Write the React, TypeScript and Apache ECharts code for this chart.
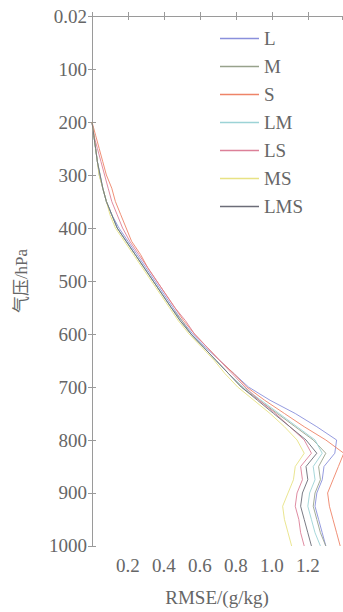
import React, { useEffect, useRef } from "react";
import * as echarts from "echarts";

// Pressure levels (hPa) at which RMSE is evaluated
const levels = [
  200, 225, 250, 275, 300, 325, 350, 375, 400, 425, 450, 475, 500, 525, 550,
  575, 600, 625, 650, 675, 700, 725, 750, 775, 800, 825, 850, 875, 900, 925,
  950, 975, 1000,
];

const seriesNames = ["L", "M", "S", "LM", "LS", "MS", "LMS"];
const seriesColors = ["#8a90dc", "#98a28c", "#ee8468", "#9cd3d6", "#dc8098", "#e8e284", "#6c6d78"];

// RMSE (g/kg) per level for each scheme
const rmseL = [
  0.0, 0.01, 0.02, 0.03, 0.045, 0.06, 0.08, 0.11, 0.15, 0.2, 0.25, 0.3, 0.35, 0.4, 0.45,
  0.5, 0.56, 0.63, 0.71, 0.79, 0.87, 0.99, 1.13, 1.25, 1.36, 1.35, 1.29, 1.28, 1.25, 1.24,
  1.26, 1.28, 1.3,
];
const rmseM = [
  0.0, 0.01, 0.02, 0.03, 0.04, 0.06, 0.08, 0.11, 0.14, 0.19, 0.24, 0.29, 0.34, 0.39, 0.44,
  0.5, 0.55, 0.62, 0.69, 0.76, 0.83, 0.93, 1.03, 1.13, 1.23, 1.3, 1.26, 1.27, 1.24, 1.23,
  1.25, 1.27, 1.3,
];
const rmseS = [
  0.0, 0.02, 0.04, 0.06, 0.08, 0.11, 0.13, 0.16, 0.19, 0.22, 0.27, 0.31, 0.36, 0.41, 0.46,
  0.51, 0.57, 0.64, 0.71, 0.79, 0.86, 0.96, 1.07, 1.18, 1.3, 1.4, 1.37, 1.34, 1.31, 1.32,
  1.34, 1.36, 1.38,
];
const rmseLM = [
  0.0, 0.01, 0.02, 0.03, 0.045, 0.06, 0.08, 0.11, 0.14, 0.19, 0.24, 0.29, 0.34, 0.39, 0.44,
  0.49, 0.55, 0.62, 0.69, 0.76, 0.84, 0.94, 1.04, 1.14, 1.24, 1.28, 1.23, 1.24, 1.21, 1.2,
  1.22, 1.24, 1.27,
];
const rmseLS = [
  0.0, 0.01, 0.03, 0.05, 0.07, 0.09, 0.11, 0.14, 0.17, 0.21, 0.26, 0.31, 0.36, 0.41, 0.46,
  0.52, 0.57, 0.64, 0.71, 0.78, 0.85, 0.93, 1.02, 1.1, 1.18, 1.22, 1.16, 1.17, 1.14, 1.13,
  1.15, 1.16, 1.18,
];
const rmseMS = [
  0.0, 0.01, 0.02, 0.03, 0.04, 0.06, 0.08, 0.1, 0.13, 0.18, 0.23, 0.28, 0.33, 0.38, 0.43,
  0.48, 0.54, 0.61, 0.68, 0.74, 0.81, 0.9, 0.99, 1.07, 1.14, 1.18, 1.13, 1.12, 1.09, 1.06,
  1.07, 1.09, 1.11,
];
const rmseLMS = [
  0.0, 0.01, 0.02, 0.03, 0.045, 0.06, 0.08, 0.11, 0.14, 0.19, 0.24, 0.29, 0.34, 0.39, 0.44,
  0.49, 0.55, 0.62, 0.69, 0.76, 0.83, 0.92, 1.01, 1.1, 1.19, 1.25, 1.19, 1.2, 1.17, 1.16,
  1.18, 1.2, 1.22,
];

const seriesValues = [rmseL, rmseM, rmseS, rmseLM, rmseLS, rmseMS, rmseLMS];

const FONT = "'Liberation Serif', 'Noto Sans CJK SC', serif";
const AXIS_COLOR = "#9a9a9a";
const TEXT_COLOR = "#666666";

export default function App() {
  const ref = useRef<HTMLDivElement>(null);

  useEffect(() => {
    if (!ref.current) return;
    const chart = echarts.init(ref.current, undefined, { renderer: "svg" });

    const axisCommon = {
      axisLine: { show: true, lineStyle: { color: AXIS_COLOR, width: 1 } },
      axisTick: { show: true, inside: true, length: 4, lineStyle: { color: AXIS_COLOR } },
      splitLine: { show: false },
    };

    chart.setOption({
      animation: false,
      backgroundColor: "#ffffff",
      grid: { left: 92, top: 16, right: 1, bottom: 64, containLabel: false },
      legend: {
        orient: "vertical",
        left: 215,
        top: 24,
        itemWidth: 39,
        itemHeight: 1.5,
        itemGap: 9,
        icon: "rect",
        data: seriesNames,
        textStyle: { fontFamily: FONT, fontSize: 19, color: TEXT_COLOR, lineHeight: 17 },
      },
      xAxis: [
        {
          type: "value",
          position: "bottom",
          min: 0,
          max: 1.39,
          interval: 0.2,
          name: "RMSE/(g/kg)",
          nameLocation: "middle",
          nameGap: 42,
          nameTextStyle: { fontFamily: FONT, fontSize: 19, color: TEXT_COLOR },
          axisLabel: {
            fontFamily: FONT,
            fontSize: 19,
            color: TEXT_COLOR,
            margin: 10,
            showMaxLabel: false,
            formatter: (v: number) => (v === 0 ? "" : v.toFixed(1)),
          },
          ...axisCommon,
        },
        {
          type: "value",
          position: "top",
          min: 0,
          max: 1.39,
          interval: 0.2,
          axisLabel: { show: false },
          ...axisCommon,
        },
      ],
      yAxis: [
        {
          type: "value",
          position: "left",
          inverse: true,
          min: 0,
          max: 1000,
          interval: 100,
          name: "气压/hPa",
          nameLocation: "middle",
          nameRotate: 90,
          nameGap: 62,
          nameTextStyle: { fontFamily: FONT, fontSize: 17, color: TEXT_COLOR },
          axisLabel: {
            fontFamily: FONT,
            fontSize: 19,
            color: TEXT_COLOR,
            margin: 5,
            formatter: (v: number) => (v === 0 ? "0.02" : String(v)),
          },
          ...axisCommon,
        },
        {
          type: "value",
          position: "right",
          inverse: true,
          min: 0,
          max: 1000,
          interval: 100,
          axisLabel: { show: false },
          ...axisCommon,
        },
      ],
      series: seriesNames.map((name, i) => ({
        name,
        type: "line",
        xAxisIndex: 0,
        yAxisIndex: 0,
        showSymbol: false,
        symbol: "none",
        clip: true,
        color: seriesColors[i],
        lineStyle: { width: 1, color: seriesColors[i], opacity: 0.9 },
        data: levels.map((p, k) => [seriesValues[i][k], p]),
      })),
    });

    return () => chart.dispose();
  }, []);

  return <div ref={ref} style={{ width: 343, height: 612, position: "absolute", left: 0, top: 0 }} />;
}
